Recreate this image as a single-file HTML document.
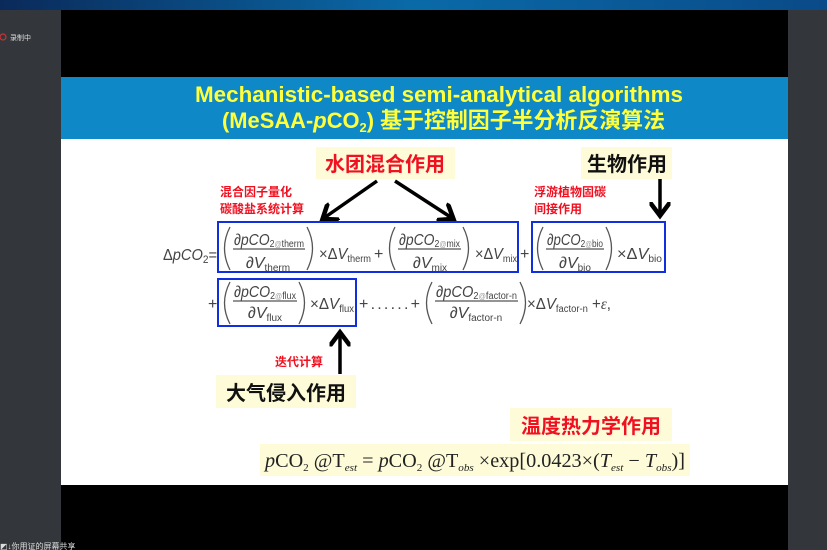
<!DOCTYPE html>
<html><head><meta charset="utf-8"><style>
body{margin:0;width:827px;height:550px;overflow:hidden;background:#000;font-family:"Liberation Sans","Noto Sans CJK SC",sans-serif}
</style></head><body>
<svg width="827" height="550" viewBox="0 0 827 550" xmlns="http://www.w3.org/2000/svg" style="position:absolute;left:0;top:0">
<defs><linearGradient id="tb" x1="0" x2="1"><stop offset="0" stop-color="#0a2a5a"/><stop offset="0.5" stop-color="#0a6aa8"/><stop offset="1" stop-color="#0a4a88"/></linearGradient>
<marker id="ah" markerWidth="6" markerHeight="6" refX="3.5" refY="3" orient="auto" markerUnits="strokeWidth"><path d="M0,0 L4,3 L0,6" fill="none" stroke="#000" stroke-width="1.3"/></marker></defs>
<rect x="0" y="0" width="827" height="10" fill="url(#tb)"/>
<rect x="0" y="10" width="61" height="540" fill="#33363a"/>
<rect x="788" y="10" width="39" height="540" fill="#33363a"/>
<circle cx="3" cy="37" r="3" fill="none" stroke="#c33" stroke-width="1.2"/>
<text x="10" y="40" font-size="7" fill="#ddd">录制中</text>
<text x="0" y="549" font-size="8" fill="#ddd">◩↓你用证的屏幕共享</text>
<rect x="61" y="77" width="727" height="408" fill="#fff"/>
<rect x="61" y="77" width="727" height="62" fill="#0e88c6"/>
<g font-weight="bold" fill="#ffff3c" font-size="22">
<text x="195" y="102" textLength="488" lengthAdjust="spacingAndGlyphs">Mechanistic-based semi-analytical algorithms</text>
<text x="222" y="128" textLength="443" lengthAdjust="spacingAndGlyphs">(MeSAA-<tspan font-style="italic">p</tspan>CO<tspan font-size="13" dy="4">2</tspan><tspan dy="-4">) 基于控制因子半分析反演算法</tspan></text>
</g>
<rect x="316" y="147" width="139" height="32" fill="#fdfbd8"/>
<rect x="581" y="147" width="91" height="32" fill="#fdfbd8"/>
<rect x="216" y="375" width="140" height="33" fill="#fdfbd8"/>
<rect x="510" y="408" width="162" height="33" fill="#fdfbd8"/>
<rect x="260" y="444" width="430" height="32" fill="#fdfbd8"/>
<g font-weight="bold" font-size="20">
<text x="385" y="171" text-anchor="middle" fill="#f01020">水团混合作用</text>
<text x="627" y="171" text-anchor="middle" fill="#111">生物作用</text>
<text x="286" y="400" text-anchor="middle" fill="#111">大气侵入作用</text>
<text x="591" y="433" text-anchor="middle" fill="#f01020">温度热力学作用</text>
</g>
<g font-weight="bold" font-size="12" fill="#f01020">
<text x="220" y="196">混合因子量化</text><text x="220" y="213">碳酸盐系统计算</text>
<text x="534" y="196">浮游植物固碳</text><text x="534" y="213">间接作用</text>
<text x="275" y="366">迭代计算</text>
</g>
<g stroke="#000" stroke-width="3.5" fill="none" marker-end="url(#ah)">
<line x1="377" y1="181" x2="324" y2="218"/>
<line x1="395" y1="181" x2="452" y2="218"/>
<line x1="660" y1="179" x2="660" y2="214"/>
<line x1="340" y1="374" x2="340" y2="334"/>
</g>
<g fill="none" stroke="#1030e0" stroke-width="2">
<rect x="218" y="222" width="300" height="50"/>
<rect x="532" y="222" width="133" height="50"/>
<rect x="218" y="279" width="138" height="47"/>
</g>
<g fill="none" stroke="#555" stroke-width="1.3">
<path d="M230,227 Q219,248 230,270"/><path d="M307,227 Q318,248 307,270"/>
<path d="M395,227 Q384,248 395,270"/><path d="M463,227 Q474,248 463,270"/>
<path d="M543,227 Q532,248 543,270"/><path d="M606,227 Q617,248 606,270"/>
<path d="M230,282 Q219,303 230,324"/><path d="M299,282 Q310,303 299,324"/>
<path d="M432,282 Q421,303 432,324"/><path d="M520,282 Q531,303 520,324"/>
<line x1="233" y1="249" x2="305" y2="249"/><line x1="398" y1="249" x2="461" y2="249"/><line x1="546" y1="249" x2="604" y2="249"/><line x1="233" y1="301" x2="297" y2="301"/><line x1="435" y1="301" x2="518" y2="301"/>
</g>
<g fill="#444" font-size="16">
<text x="163" y="260" textLength="54" lengthAdjust="spacingAndGlyphs">Δ<tspan font-style="italic">pCO</tspan><tspan font-size="11" dy="3">2</tspan><tspan dy="-3">=</tspan></text>
<text x="234" y="245" textLength="70" lengthAdjust="spacingAndGlyphs">∂<tspan font-style="italic">pCO</tspan><tspan font-size="10" dy="2">2</tspan><tspan font-size="8" fill="#999">@</tspan><tspan font-size="10">therm</tspan></text>
<text x="268" y="268" text-anchor="middle">∂<tspan font-style="italic">V</tspan><tspan font-size="10" dy="3">therm</tspan></text>
<text x="399" y="245" textLength="61" lengthAdjust="spacingAndGlyphs">∂<tspan font-style="italic">pCO</tspan><tspan font-size="10" dy="2">2</tspan><tspan font-size="8" fill="#999">@</tspan><tspan font-size="10">mix</tspan></text>
<text x="430" y="268" text-anchor="middle">∂<tspan font-style="italic">V</tspan><tspan font-size="10" dy="3">mix</tspan></text>
<text x="547" y="245" textLength="56" lengthAdjust="spacingAndGlyphs">∂<tspan font-style="italic">pCO</tspan><tspan font-size="10" dy="2">2</tspan><tspan font-size="8" fill="#999">@</tspan><tspan font-size="10">bio</tspan></text>
<text x="575" y="268" text-anchor="middle">∂<tspan font-style="italic">V</tspan><tspan font-size="10" dy="3">bio</tspan></text>
<text x="234" y="297" textLength="62" lengthAdjust="spacingAndGlyphs">∂<tspan font-style="italic">pCO</tspan><tspan font-size="10" dy="2">2</tspan><tspan font-size="8" fill="#999">@</tspan><tspan font-size="10">flux</tspan></text>
<text x="265" y="318" text-anchor="middle">∂<tspan font-style="italic">V</tspan><tspan font-size="10" dy="3">flux</tspan></text>
<text x="436" y="297" textLength="81" lengthAdjust="spacingAndGlyphs">∂<tspan font-style="italic">pCO</tspan><tspan font-size="10" dy="2">2</tspan><tspan font-size="8" fill="#999">@</tspan><tspan font-size="10">factor-n</tspan></text>
<text x="476" y="318" text-anchor="middle">∂<tspan font-style="italic">V</tspan><tspan font-size="10" dy="3">factor-n</tspan></text>
<text x="319" y="259" textLength="52" lengthAdjust="spacingAndGlyphs">×Δ<tspan font-style="italic">V</tspan><tspan font-size="10" dy="3">therm</tspan></text>
<text x="374" y="259">+</text>
<text x="475" y="259" textLength="42" lengthAdjust="spacingAndGlyphs">×Δ<tspan font-style="italic">V</tspan><tspan font-size="10" dy="3">mix</tspan></text>
<text x="520" y="259">+</text>
<text x="617" y="259" textLength="45" lengthAdjust="spacingAndGlyphs">×Δ<tspan font-style="italic">V</tspan><tspan font-size="10" dy="3">bio</tspan></text>
<text x="208" y="309">+</text>
<text x="310" y="309" textLength="44" lengthAdjust="spacingAndGlyphs">×Δ<tspan font-style="italic">V</tspan><tspan font-size="10" dy="3">flux</tspan></text>
<text x="359" y="309" textLength="61" lengthAdjust="spacing">+ . . . . . . +</text>
<text x="527" y="309" textLength="84" lengthAdjust="spacingAndGlyphs">×Δ<tspan font-style="italic">V</tspan><tspan font-size="10" dy="3">factor-n</tspan><tspan dy="-3"> +</tspan><tspan font-family="Liberation Serif" font-style="italic">ε</tspan>,</text>
</g>
<text x="265" y="467" font-family="Liberation Serif" font-size="20" fill="#222" textLength="420" lengthAdjust="spacingAndGlyphs"><tspan font-style="italic">p</tspan>CO<tspan font-size="11" dy="4">2</tspan><tspan dy="-4"> @T</tspan><tspan font-size="11" font-style="italic" dy="4">est</tspan><tspan dy="-4"> = </tspan><tspan font-style="italic">p</tspan>CO<tspan font-size="11" dy="4">2</tspan><tspan dy="-4"> @T</tspan><tspan font-size="11" font-style="italic" dy="4">obs</tspan><tspan dy="-4"> ×exp[0.0423×(</tspan><tspan font-style="italic">T</tspan><tspan font-size="11" font-style="italic" dy="4">est</tspan><tspan dy="-4"> − </tspan><tspan font-style="italic">T</tspan><tspan font-size="11" font-style="italic" dy="4">obs</tspan><tspan dy="-4">)]</tspan></text>
</svg>
</body></html>
